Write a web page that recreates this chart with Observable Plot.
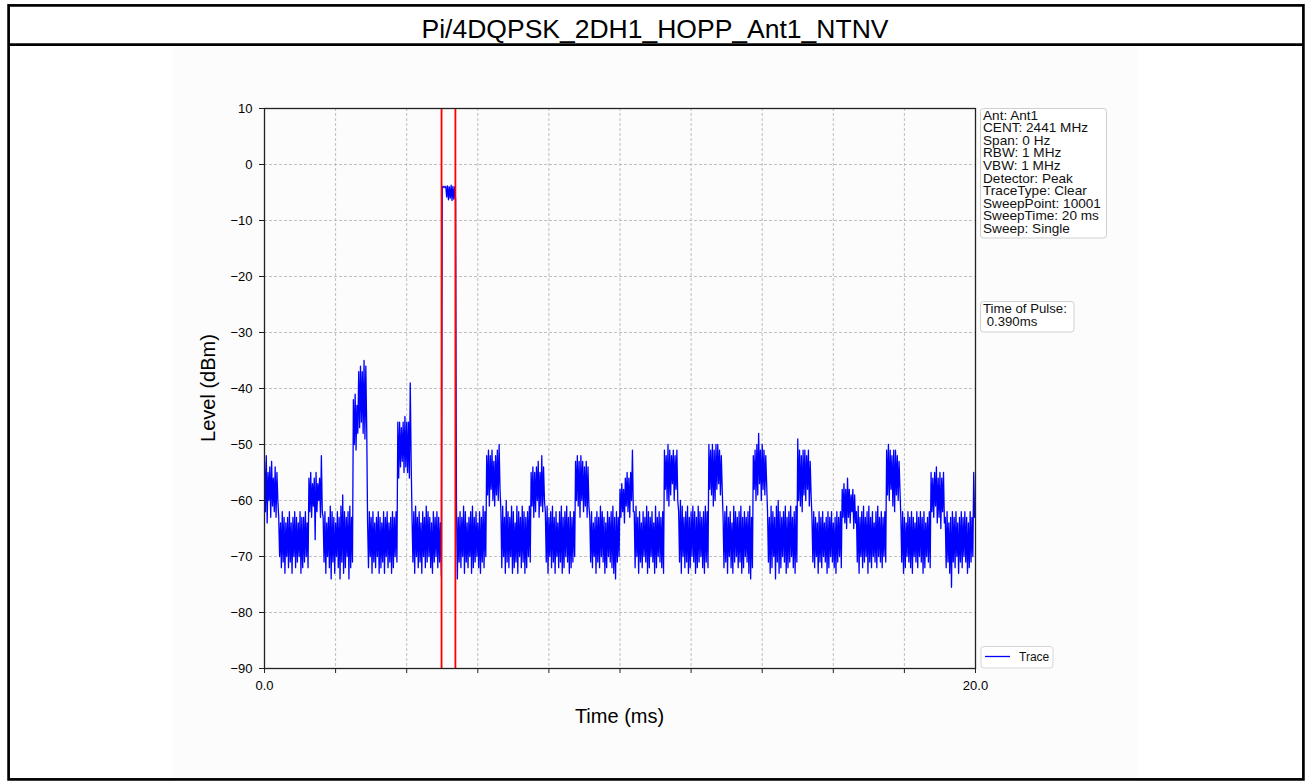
<!DOCTYPE html>
<html>
<head>
<meta charset="utf-8">
<script src="https://cdn.jsdelivr.net/npm/d3@7"></script>
<script src="https://cdn.jsdelivr.net/npm/@observablehq/plot@0.6"></script>
<style>
  html, body { margin: 0; padding: 0; background: #fff; }
  #chart svg { display: block; }
</style>
</head>
<body>
<div id="chart"></div>
<script>
// ---- chart text ----
const chartTitle = "Pi/4DQPSK_2DH1_HOPP_Ant1_NTNV";
const xLabel = "Time (ms)";
const yLabel = "Level (dBm)";
const infoLines = ["Ant: Ant1", "CENT: 2441 MHz", "Span: 0 Hz", "RBW: 1 MHz", "VBW: 1 MHz",
  "Detector: Peak", "TraceType: Clear", "SweepPoint: 10001", "SweepTime: 20 ms", "Sweep: Single"];
const pulseLines = ["Time of Pulse:", "\u00a00.390ms"];
const legendLabel = "Trace";

// ---- axes ----
const xDomain = [0, 20];
const yDomain = [-90, 10];
const xTicks = [0, 2, 4, 6, 8, 10, 12, 14, 16, 18, 20];
const xTickLabels = ["0.0", "", "", "", "", "", "", "", "", "", "20.0"];
const yTicks = [-90, -80, -70, -60, -50, -40, -30, -20, -10, 0, 10];

// ---- pulse markers (ms) ----
const markerTimes = [4.98, 5.37];

// ---- trace: peak envelope read per 0.05 ms column (upper / lower value in each column) ----
const stepMs = 0.05;
const traceHigh = [
  -53,-52,-55,-54,-53,-56,-54,-55, -63,-64,-62,-63,-64,-63,-62,-64,-63,-62,-63,-64,-62,-63,-63,-62,-64,
  -56,-55,-57,-56,-55,-57,-56,-52, -63,-62,-64,-63,-61,-62,-63,-64,-62,-63,-61,-59,-62,-63,-62,-61,-63,
  -42,-41,-43,-37,-36,-37,-35,-36, -64,-62,-63,-62,-64,-63,-62,-63,-64,-62,-63,-62,-64,-63,-62,-63,-62,
  -46,-46,-47,-46,-45,-46,-46,-39, -63,-62,-61,-63,-62,-64,-62,-63,-61,-62,-63,-64,-62,-63,-62,-63,-64,
  -3.9,-3.9,-3.9,-3.8,-4.0,-3.7,-3.9,-4.0, -61,-63,-62,-63,-61,-62,-64,-63,-62,-61,-63,-62,-64,-62,-63,-61,-62,
  -52,-51,-52,-51,-53,-52,-51,-50, -62,-61,-63,-60,-62,-63,-61,-62,-64,-61,-62,-63,-61,-62,-63,-62,-61,
  -55,-54,-55,-54,-53,-55,-52,-54, -62,-61,-63,-62,-61,-63,-62,-64,-62,-61,-63,-62,-61,-63,-62,-63,-62,
  -53,-52,-53,-52,-53,-54,-53,-54, -63,-62,-64,-63,-62,-63,-61,-62,-63,-64,-62,-63,-62,-61,-63,-62,-63,
  -58,-57,-58,-56,-55,-56,-55,-51, -62,-61,-63,-62,-64,-62,-63,-61,-62,-63,-62,-64,-61,-63,-62,-63,-62,
  -51,-52,-50,-51,-52,-51,-52,-51, -62,-60,-61,-63,-62,-61,-63,-62,-61,-62,-63,-61,-62,-63,-62,-61,-62,
  -50,-51,-50,-51,-50,-50,-51,-52, -63,-62,-61,-63,-62,-64,-61,-62,-63,-62,-61,-63,-62,-63,-62,-61,-63,
  -52,-51,-50,-48,-51,-50,-51,-52, -62,-63,-61,-62,-63,-61,-60,-62,-63,-62,-61,-63,-62,-61,-63,-62,-61,
  -49,-51,-52,-51,-51,-52,-51,-53, -63,-62,-63,-64,-62,-63,-62,-64,-63,-62,-63,-62,-64,-63,-62,-63,-62,
  -58,-57,-58,-56,-58,-59,-58,-59, -62,-61,-63,-62,-61,-63,-62,-61,-63,-62,-64,-62,-61,-63,-62,-63,-62,
  -51,-50,-51,-52,-51,-51,-52,-53, -63,-62,-63,-64,-62,-63,-62,-63,-64,-62,-63,-62,-63,-62,-64,-63,-62,
  -55,-56,-55,-54,-56,-55,-56,-55, -63,-62,-64,-63,-62,-63,-62,-64,-63,-62,-63,-62,-63,-64,-62,-63, -55
];
const traceLow = [
  -62,-64,-60,-63,-61,-62,-63,-60, -70,-72,-71,-73,-70,-72,-71,-73,-70,-72,-71,-70,-73,-72,-71,-70,-72,
  -62,-63,-61,-67,-62,-60,-63,-62, -71,-73,-70,-72,-74,-71,-73,-70,-72,-74,-71,-73,-72,-70,-74,-72,-71,
  -50,-51,-48,-47,-46,-48,-49,-47, -72,-70,-73,-71,-72,-70,-73,-72,-71,-73,-70,-72,-71,-73,-72,-70,-71,
  -56,-54,-53,-55,-54,-55,-56,-53, -71,-73,-70,-72,-71,-73,-70,-72,-71,-70,-72,-73,-71,-70,-72,-71,-73.5,
  -4.1,-4.1,-5.8,-6.3,-6.0,-6.4,-6.2,-6.3, -74,-71,-72,-70,-73,-71,-72,-70,-73,-72,-71,-70,-72,-73,-71,-72,-70,
  -59,-61,-58,-60,-61,-59,-60,-58, -72,-70,-73,-71,-72,-70,-73,-72,-71,-73,-70,-72,-71,-73,-72,-70,-71,
  -61,-63,-62,-60,-63,-61,-62,-60, -71,-73,-70,-72,-71,-73,-70,-72,-71,-73,-72,-70,-71,-73,-72,-71,-70,
  -60,-61,-63,-60,-62,-61,-63,-61, -71,-72,-70,-73,-71,-72,-70,-71,-73,-72,-70,-71,-72,-73,-74,-71,-70,
  -63,-62,-64,-61,-62,-63,-60,-62, -72,-70,-73,-71,-72,-70,-71,-73,-72,-70,-71,-73,-72,-70,-71,-72,-73,
  -58,-60,-61,-59,-57,-60,-58,-60, -71,-73,-70,-72,-71,-73,-72,-70,-71,-73,-72,-71,-70,-72,-73,-71,-72,
  -58,-59,-61,-60,-58,-57,-59,-58, -72,-71,-73,-70,-72,-73,-71,-70,-72,-71,-73,-72,-70,-71,-73,-74,-72,
  -58,-60,-59,-57,-60,-58,-59,-57, -71,-73,-72,-70,-74,-71,-73,-72,-70,-71,-73,-72,-71,-70,-72,-73,-71,
  -60,-61,-62,-59,-60,-58,-61,-59, -71,-72,-70,-73,-71,-72,-70,-71,-73,-72,-70,-71,-72,-73,-71,-70,-72,
  -63,-64,-65,-63,-64,-62,-65,-64, -71,-73,-70,-72,-71,-70,-73,-71,-72,-70,-71,-72,-70,-71,-72,-70,-71,
  -59,-60,-58,-61,-62,-59,-60,-58, -71,-73,-72,-70,-71,-72,-73,-70,-71,-72,-70,-71,-73,-72,-70,-71,-72,
  -62,-63,-61,-64,-63,-65,-62,-64, -72,-71,-73,-75.5,-71,-72,-70,-73,-71,-72,-70,-71,-73,-72,-71,-70, -63
];

// table for the line mark: each column contributes its upper then its lower value
const trace = [];
traceHigh.forEach((hi, i) => {
  trace.push({t: i * stepMs, level: hi});
  trace.push({t: i * stepMs + stepMs / 2, level: traceLow[i]});
});

const W = 1310, H = 781;
const font = "'Liberation Sans', Arial, Helvetica, sans-serif";

const chart = Plot.plot({
  width: W,
  height: H,
  marginLeft: 264,
  marginRight: 335,
  marginTop: 108,
  marginBottom: 113,
  style: {fontFamily: font, fontSize: "13px", color: "#000", background: "transparent", overflow: "visible"},
  x: {domain: xDomain, label: null},
  y: {domain: yDomain, label: null},
  marks: [
    Plot.gridX(xTicks, {stroke: "#b0b0b0", strokeOpacity: 1, strokeWidth: 0.8, strokeDasharray: "3,2"}),
    Plot.gridY(yTicks, {stroke: "#b0b0b0", strokeOpacity: 1, strokeWidth: 0.8, strokeDasharray: "3,2"}),
    Plot.line(trace, {x: "t", y: "level", stroke: "#0000ff", strokeWidth: 1.3, clip: true}),
    Plot.ruleX(markerTimes, {stroke: "#ff0000", strokeOpacity: 1, strokeWidth: 1.8}),
    Plot.frame({stroke: "#222", strokeWidth: 1.3}),
    Plot.axisX(xTicks, {tickSize: 5, tickPadding: 7, stroke: "#222", fontSize: 13,
      tickFormat: (d, i) => xTickLabels[i], label: null}),
    Plot.axisY(yTicks, {tickSize: 5, tickPadding: 7, stroke: "#222", fontSize: 13,
      tickFormat: d => d < 0 ? "\u2212" + Math.abs(d) : String(d), label: null})
  ]
});

const svg = d3.select(chart);

// faint figure panel behind the axes
svg.insert("rect", ":first-child")
  .attr("x", 172).attr("y", 47).attr("width", 966).attr("height", 731)
  .attr("fill", "#fcfcfc");
svg.insert("rect", ":first-child")
  .attr("x", 0).attr("y", 0).attr("width", W).attr("height", H).attr("fill", "#fff");

function addText(x, y, s, size, anchor, fam) {
  return svg.append("text").attr("x", x).attr("y", y)
    .attr("text-anchor", anchor).attr("font-family", fam || font)
    .attr("font-size", size).attr("fill", "#000").text(s);
}

// outer frame and title band
svg.append("rect").attr("x", 8.6).attr("y", 5.4).attr("width", 1294.8).attr("height", 774)
  .attr("fill", "none").attr("stroke", "#000").attr("stroke-width", 2.7);
svg.append("line").attr("x1", 8.6).attr("x2", 1303.4).attr("y1", 44.6).attr("y2", 44.6)
  .attr("stroke", "#000").attr("stroke-width", 2.7);
addText(655, 38, chartTitle, 26.5, "middle");

// axis titles
addText(619.5, 723, xLabel, 20, "middle");
svg.append("text").attr("transform", "translate(215,388) rotate(-90)").attr("text-anchor", "middle")
  .attr("font-family", font).attr("font-size", 20).attr("fill", "#000").text(yLabel);

// info box
svg.append("rect").attr("x", 980.5).attr("y", 108.5).attr("width", 126).attr("height", 129.5)
  .attr("rx", 3).attr("fill", "#fff").attr("fill-opacity", 0.85).attr("stroke", "#cfcfcf").attr("stroke-width", 1);
infoLines.forEach((s, i) => addText(983, 119.5 + i * 12.6, s, 13.6, "start").attr("fill", "#111"));

// time of pulse box
svg.append("rect").attr("x", 980.5).attr("y", 301.5).attr("width", 93.5).attr("height", 30.5)
  .attr("rx", 3).attr("fill", "#fff").attr("fill-opacity", 0.85).attr("stroke", "#cfcfcf").attr("stroke-width", 1);
pulseLines.forEach((s, i) => addText(983, 312.5 + i * 13, s, 13.2, "start").attr("fill", "#111"));

// legend
svg.append("rect").attr("x", 981).attr("y", 646.5).attr("width", 72).attr("height", 21.5)
  .attr("rx", 3).attr("fill", "#fff").attr("fill-opacity", 0.85).attr("stroke", "#d6d6d6").attr("stroke-width", 1);
svg.append("line").attr("x1", 985).attr("x2", 1010).attr("y1", 656.5).attr("y2", 656.5)
  .attr("stroke", "#0000ff").attr("stroke-width", 1.3);
addText(1019, 661, legendLabel, 12, "start",
  "'Liberation Sans Narrow', 'Liberation Sans', Arial, sans-serif").attr("fill", "#111");

document.getElementById("chart").appendChild(chart);
</script>
</body>
</html>
